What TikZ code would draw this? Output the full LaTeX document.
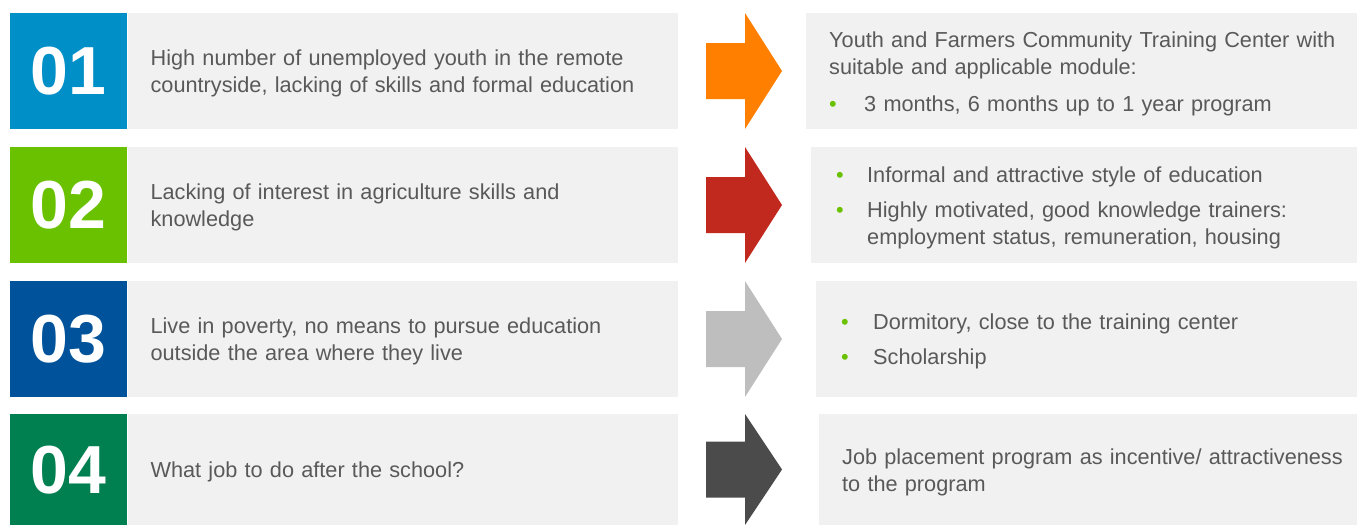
\documentclass[tikz,border=0pt]{standalone}
\usepackage{fontspec}
\setmainfont{Liberation Sans}
\usetikzlibrary{positioning}

\definecolor{numblue}{HTML}{008FC7}
\definecolor{numgreen}{HTML}{6AC100}
\definecolor{numnavy}{HTML}{00539B}
\definecolor{numteal}{HTML}{007F50}
\definecolor{arrorange}{HTML}{FF8000}
\definecolor{arrred}{HTML}{C1291F}
\definecolor{arrlight}{HTML}{BEBEBE}
\definecolor{arrdark}{HTML}{4B4B4B}
\definecolor{boxgray}{HTML}{F1F1F1}
\definecolor{txtgray}{HTML}{595959}
\definecolor{bulgreen}{HTML}{6AC100}

\newcommand{\bul}[2][31pt]{\makebox[#1][l]{\textcolor{bulgreen}{\textbullet}}#2}

\tikzset{
    numbox/.style={fill=#1, minimum width=117pt, minimum height=116pt, inner sep=0pt,
        anchor=north west, text=white, font=\fontsize{68}{68}\selectfont\bfseries},
    probbox/.style={fill=boxgray, minimum height=116pt, inner ysep=0pt, inner xsep=23pt,
        text width=504pt, align=left, text=txtgray, font=\fontsize{21.7}{27}\selectfont,
        execute at begin node={\rule{0pt}{21pt}}},
    solbox/.style={fill=boxgray, minimum height=116pt, inner ysep=0pt, anchor=north west,
        text width=520pt, align=left, text=txtgray, font=\fontsize{21.7}{27}\selectfont,
        execute at begin node={\rule{0pt}{21pt}}},
}

\begin{document}
\begin{tikzpicture}[x=1pt, y=-1pt]
    \useasboundingbox (0,0) rectangle (1357,525);

    % problem column
    \node[numbox=numblue] (n1) at (10,13) {01};
    \node[numbox=numgreen] (n2) at (10,147) {02};
    \node[numbox=numnavy] (n3) at (10,281) {03};
    \node[numbox=numteal, minimum height=111pt] (n4) at (10,414) {04};

    \node[probbox, right=0pt of n1] (p1) {High number of unemployed youth in the remote\\countryside, lacking of skills and formal education};
    \node[probbox, right=0pt of n2] (p2) {Lacking of interest in agriculture skills and\\knowledge};
    \node[probbox, right=0pt of n3] (p3) {Live in poverty, no means to pursue education\\outside the area where they live};
    \node[probbox, right=0pt of n4, minimum height=111pt] (p4) {What job to do after the school?};

    % arrows
    \foreach \y/\h/\col in {13/116/arrorange, 147/116/arrred, 281/116/arrlight, 414/111/arrdark}
        \fill[\col] (706,\y+\h/2-28) -- (745,\y+\h/2-28) -- (745,\y) -- (782,\y+\h/2)
            -- (745,\y+\h) -- (745,\y+\h/2+28) -- (706,\y+\h/2+28) -- cycle;

    % solution column
    \node[solbox, inner xsep=23pt] (s1) at (806,13)
        {Youth and Farmers Community Training Center with\\suitable and applicable module:\\[10pt]
         \bul[35pt]{3 months, 6 months up to 1 year program}};
    \node[solbox, inner xsep=25pt] (s2) at (811,147)
        {\bul{Informal and attractive style of education}\\[8pt]
         \bul{Highly motivated, good knowledge trainers:}\\
         \hspace*{31pt}employment status, remuneration, housing};
    \node[solbox, inner xsep=25pt] (s3) at (816,281)
        {\bul[32pt]{Dormitory, close to the training center}\\[8pt]
         \bul[32pt]{Scholarship}};
    \node[solbox, minimum height=111pt, inner xsep=23pt] (s4) at (819,414)
        {Job placement program as incentive/ attractiveness\\to the program};
\end{tikzpicture}
\end{document}
